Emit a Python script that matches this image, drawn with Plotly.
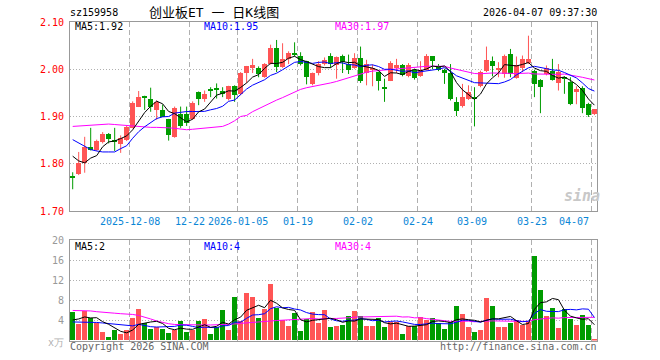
import plotly.graph_objects as go

# ---------------- data ----------------
opens = [1.772,1.778,1.801,1.836,1.830,1.845,1.864,1.851,1.841,1.851,
         1.876,1.921,1.943,1.938,1.914,1.914,1.894,1.857,1.906,1.906,
         1.895,1.952,1.936,1.956,1.959,1.955,1.936,1.964,1.947,1.992,
         2.003,2.003,1.983,2.011,2.046,2.004,2.022,2.034,2.027,2.017,
         1.968,1.992,2.011,2.027,2.008,2.027,2.011,2.003,2.024,1.992,
         1.998,1.994,1.962,1.976,2.004,2.008,1.985,1.999,1.985,1.999,
         2.027,2.006,1.999,1.992,1.931,1.922,1.938,1.941,1.964,1.996,
         2.018,1.999,1.990,2.032,1.982,2.003,2.013,1.996,1.978,1.990,
         1.996,1.971,1.983,1.973,1.952,1.961,1.926,1.906]
highs = [1.782,1.825,1.857,1.876,1.851,1.867,1.865,1.876,1.860,1.880,
         1.932,1.954,1.944,1.961,1.934,1.925,1.895,1.921,1.921,1.921,
         1.932,1.953,1.955,1.962,1.970,1.962,1.965,1.966,1.994,2.007,
         2.022,2.006,2.013,2.052,2.062,2.055,2.038,2.057,2.036,2.018,
         1.993,2.017,2.025,2.034,2.027,2.031,2.031,2.034,2.048,2.020,
         2.010,1.995,1.980,2.017,2.022,2.011,2.013,2.001,2.017,2.032,
         2.028,2.011,2.001,2.011,1.941,1.969,1.966,1.962,1.997,2.048,
         2.027,2.015,2.031,2.043,2.027,2.029,2.071,1.999,1.979,2.008,
         2.022,2.011,1.985,1.983,1.964,1.964,1.929,1.915]
lows = [1.746,1.776,1.781,1.828,1.827,1.843,1.843,1.827,1.823,1.848,
        1.875,1.920,1.914,1.910,1.893,1.900,1.849,1.855,1.876,1.880,
        1.893,1.924,1.931,1.941,1.938,1.941,1.934,1.931,1.945,1.971,
        1.992,1.983,1.982,2.010,1.994,2.003,2.011,2.027,2.008,1.968,
        1.966,1.987,2.008,2.003,1.980,1.992,1.990,2.001,1.971,1.966,
        1.964,1.955,1.931,1.975,1.992,1.985,1.983,1.978,1.984,1.998,
        2.000,1.996,1.969,1.934,1.901,1.919,1.935,1.879,1.962,1.994,
        1.985,1.983,1.982,1.983,1.980,1.994,2.011,1.941,1.907,1.987,
        1.976,1.955,1.948,1.924,1.926,1.907,1.899,1.903]
closes = [1.770,1.802,1.836,1.830,1.848,1.864,1.853,1.846,1.855,1.877,
          1.928,1.941,1.941,1.921,1.931,1.900,1.860,1.918,1.879,1.886,
          1.928,1.938,1.948,1.954,1.958,1.948,1.964,1.945,1.992,2.006,
          2.010,1.990,2.011,2.046,2.004,2.022,2.034,2.031,2.011,1.983,
          1.992,2.011,2.020,2.011,2.025,2.015,1.999,2.024,1.975,2.011,
          2.003,1.975,1.960,2.014,2.008,1.987,2.008,1.982,1.999,2.027,
          2.018,1.999,1.992,1.938,1.912,1.941,1.952,1.938,1.994,2.020,
          2.006,2.002,2.027,1.990,2.010,2.022,2.022,1.969,1.962,2.003,
          1.978,1.994,1.981,1.926,1.959,1.917,1.903,1.915]
volumes = [5.67,3.27,5.87,4.47,3.47,1.67,0.67,2.07,1.27,2.00,
           4.47,6.27,3.47,2.27,2.67,2.27,1.47,2.07,3.87,1.67,
           2.07,3.87,4.27,1.27,2.67,6.07,2.07,8.67,3.87,9.47,
           8.67,4.47,6.27,11.27,6.47,4.07,2.87,5.47,1.87,4.27,
           5.67,3.47,6.07,2.67,2.87,3.07,4.87,5.87,4.87,2.87,
           2.87,4.47,2.67,3.67,3.67,1.27,2.87,2.87,4.67,4.07,
           4.47,3.47,2.27,3.67,6.87,5.27,2.67,1.67,2.07,8.33,
           6.87,2.67,2.67,3.47,4.07,3.07,3.67,16.87,10.07,4.87,
           6.47,2.47,6.27,4.27,3.07,5.07,3.07,0.27]

ma5_head = [1.816, 1.806, 1.802, 1.812]
ma10_head = [1.851, 1.844, 1.837, 1.830, 1.827, 1.825, 1.825, 1.825, 1.832]
ma30_head = [1.879, 1.880, 1.881, 1.882, 1.883, 1.884, 1.884, 1.883, 1.882, 1.881,
             1.880, 1.879, 1.877, 1.877, 1.877, 1.877, 1.876, 1.875, 1.873, 1.872,
             1.873, 1.874, 1.875, 1.876, 1.877, 1.879, 1.884, 1.891, 1.900]
vma5_head = [4.1, 4.3, 4.7, 4.5]
vma10_head = [3.7, 3.7, 3.7, 3.7, 3.6, 3.5, 3.4, 3.3, 3.2]
vma30_head = [6.0, 6.0, 6.0, 5.9, 5.75, 5.6, 5.5, 5.45, 5.35, 5.3,
              5.2, 5.0, 4.7, 4.3, 3.9, 3.6, 3.35, 3.2, 3.15, 3.13,
              3.1, 3.1, 3.1, 3.1, 3.13, 3.15, 3.2, 3.3, 3.42]

date_labels = ["2025-12-08", "12-22", "2026-01-05", "01-19", "02-02",
               "02-24", "03-09", "03-23", "04-07"]
date_index = [10, 20, 28, 38, 48, 58, 67, 77, 87]

price_ticks = [1.70, 1.80, 1.90, 2.00, 2.10]
vol_ticks = [4, 8, 12, 16, 20]

title_text = "创业板ET 一 日K线图"
code_text = "sz159958"
time_text = "2026-04-07 09:37:30"
ma_price_text = ["MA5:1.92", "MA10:1.95", "MA30:1.97"]
ma_vol_text = ["MA5:2", "MA10:4", "MA30:4"]

# ---------------- helpers ----------------
def moving(vals, n, head):
    out = []
    for i in range(len(vals)):
        if i < n - 1:
            out.append(head[i])
        else:
            out.append(sum(vals[i - n + 1:i + 1]) / n)
    return out

N = len(closes)
idx = list(range(N))
RED = "#ff5555"
GREEN = "#009c00"
MONO = "DejaVu Sans Mono, Liberation Mono, monospace"

up = [closes[i] >= opens[i] for i in idx]

fig = go.Figure()

# wicks
for flag, col in ((True, RED), (False, GREEN)):
    wx, wy = [], []
    for i in idx:
        if up[i] == flag:
            wx += [i, i, None]
            wy += [lows[i], highs[i], None]
    fig.add_trace(go.Scatter(x=wx, y=wy, mode="lines", line=dict(color=col, width=1),
                             hoverinfo="skip", showlegend=False, xaxis="x", yaxis="y"))

# bodies
base = [min(opens[i], closes[i]) for i in idx]
height = [max(abs(closes[i] - opens[i]), 0.0022) for i in idx]
colors = [RED if u else GREEN for u in up]
fig.add_trace(go.Bar(x=idx, y=height, base=base, width=0.83,
                     marker=dict(color=colors, line=dict(width=0)),
                     showlegend=False, xaxis="x", yaxis="y"))

# price MAs
for n, head, col in ((30, ma30_head, "#ff00ff"), (10, ma10_head, "#0000ff"), (5, ma5_head, "#000000")):
    fig.add_trace(go.Scatter(x=idx, y=moving(closes, n, head), mode="lines",
                             line=dict(color=col, width=1), showlegend=False,
                             xaxis="x", yaxis="y"))

# volume
fig.add_trace(go.Bar(x=idx, y=volumes, width=0.83,
                     marker=dict(color=colors, line=dict(width=0)),
                     showlegend=False, xaxis="x2", yaxis="y2"))
for n, head, col in ((30, vma30_head, "#ff00ff"), (10, vma10_head, "#0000ff"), (5, vma5_head, "#000000")):
    fig.add_trace(go.Scatter(x=idx, y=moving(volumes, n, head), mode="lines",
                             line=dict(color=col, width=1), showlegend=False,
                             xaxis="x2", yaxis="y2"))

W, H = 660, 360
xl, xr = 70, 597
p_top, p_bot = 22, 211
v_top, v_bot = 240.3, 340.5
xrange = [-0.45, 87.43]
grid_x = [d - 0.45 for d in date_index]

common_x = dict(range=xrange, domain=[xl / W, xr / W], showticklabels=False,
                tickvals=grid_x, showgrid=True, gridcolor="#b0b0b0", griddash="5px,3px",
                gridwidth=1, showline=True, mirror=True, linecolor="#999999", linewidth=1,
                zeroline=False, ticks="", fixedrange=True, automargin=False)

fig.update_layout(
    width=W, height=H, autosize=False,
    margin=dict(l=0, r=0, t=0, b=0, pad=0, autoexpand=False),
    paper_bgcolor="white", plot_bgcolor="white",
    barmode="overlay", bargap=0, showlegend=False,
    font=dict(family=MONO, size=10, color="#000"),
    xaxis=dict(anchor="y", **common_x),
    xaxis2=dict(anchor="y2", **common_x),
    yaxis=dict(domain=[(H - p_bot) / H, (H - p_top) / H], range=[1.70, 2.10],
               tickvals=price_ticks, ticktext=["%.2f" % v for v in price_ticks],
               tickfont=dict(family=MONO, size=10, color="#ff0000"),
               showgrid=True, gridcolor="#b0b0b0", griddash="1px,2px",
               showline=True, mirror=True, linecolor="#999999", linewidth=1,
               zeroline=False, ticks="", ticklabelstandoff=3, fixedrange=True,
               automargin=False),
    yaxis2=dict(domain=[(H - v_bot) / H, (H - v_top) / H], range=[0, 20],
                tickvals=vol_ticks, ticktext=[str(v) for v in vol_ticks],
                tickfont=dict(family=MONO, size=10, color="#999999"),
                showgrid=True, gridcolor="#b0b0b0", griddash="1px,2px",
                showline=True, mirror=True, linecolor="#999999", linewidth=1,
                zeroline=False, ticks="", ticklabelstandoff=3, fixedrange=True,
                automargin=False),
)

ann = []
def txt(x, y, s, color="#000", size=10, xa="left", ya="middle", family=MONO, **kw):
    ann.append(dict(x=x / W, y=(H - y) / H, xref="paper", yref="paper", text=s,
                    showarrow=False, xanchor=xa, yanchor=ya,
                    font=dict(family=family, size=size, color=color), borderpad=0, **kw))

txt(69, 13, code_text)
txt(214, 13, title_text, size=13, xa="center",
    family="DejaVu Sans Mono, Noto Sans CJK SC, sans-serif")
txt(598, 13, time_text, xa="right")
txt(74, 27, ma_price_text[0], "#000000")
txt(203, 27, ma_price_text[1], "#0000ff")
txt(334, 27, ma_price_text[2], "#ff00ff")
txt(74, 246, ma_vol_text[0], "#000000")
txt(203, 246, ma_vol_text[1], "#0000ff")
txt(334, 246, ma_vol_text[2], "#ff00ff")
txt(69, 346, "Copyright 2026 SINA.COM", "#666666")
txt(598, 346, "http://finance.sina.com.cn", "#666666", xa="right")
txt(65, 342, "x万", "#b0b0b0", xa="right", size=10)
txt(582, 196, "<b><i>sina</i></b>", "#c8c8c8", size=15, xa="center")

# date labels on the price axis
for k, (d, lab) in enumerate(zip(date_index, date_labels)):
    last = k == len(date_index) - 1
    ann.append(dict(x=d - 0.45, y=(H - 221) / H, xref="x", yref="paper", text=lab,
                    showarrow=False, xanchor="right" if last else "center",
                    xshift=-1 if last else 0, yanchor="middle",
                    font=dict(family=MONO, size=10, color="#0a86d6")))

fig.update_layout(annotations=ann)
fig.write_html("out.html", config={"displayModeBar": False, "responsive": False},
               post_script="document.body.style.margin='0';document.body.style.padding='0';")
